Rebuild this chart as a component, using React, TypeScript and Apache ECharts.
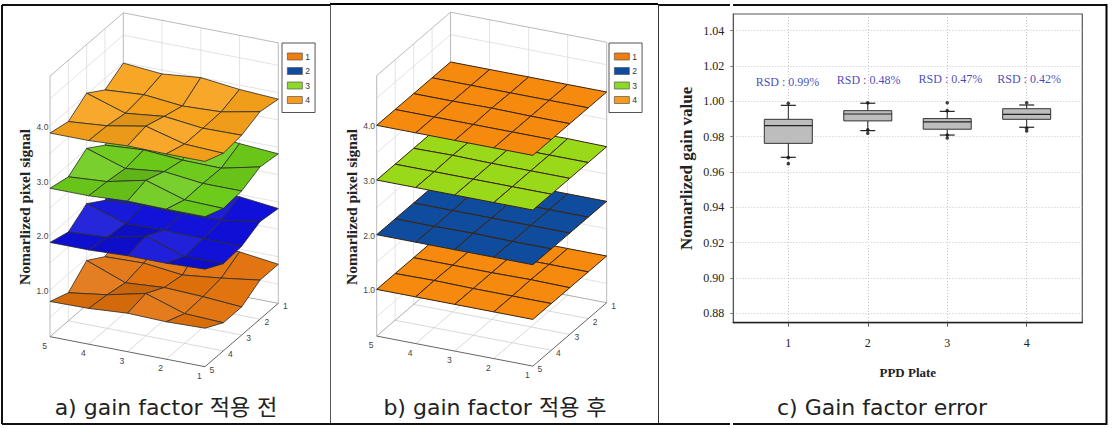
import React, { useEffect, useRef } from "react";
import * as echarts from "echarts";

// ---------- data ----------
const surfaceNames = ["1", "2", "3", "4"];
const zTicks = [1, 2, 3, 4];
const zGrid = [0.5, 1, 1.5, 2, 2.5, 3, 3.5, 4, 4.5];
const plateTicks = [5, 4, 3, 2, 1];
const rowTicks = [5, 4, 3, 2, 1];

// rows: y = 5 (front) ... y = 1 (back); columns: x = 5 ... x = 1
const before1 = [
  [0.79, 0.8, 0.85, 0.83, 0.85],
  [0.66, 0.76, 0.92, 0.69, 0.66],
  [0.96, 0.69, 0.74, 0.71, 0.66],
  [0.74, 0.76, 0.68, 0.76, 0.86],
  [0.93, 0.9, 0.95, 0.95, 0.86],
];
const before2 = [
  [1.87, 1.87, 1.9, 1.9, 1.93],
  [1.77, 1.81, 1.97, 1.73, 1.74],
  [2.0, 1.77, 1.79, 1.77, 1.77],
  [1.77, 1.82, 1.8, 1.82, 1.93],
  [2.0, 1.93, 2.0, 1.96, 1.88],
];
const before3 = [
  [2.86, 2.86, 2.9, 2.89, 2.89],
  [2.78, 2.83, 2.99, 2.77, 2.75],
  [3.01, 2.78, 2.86, 2.78, 2.78],
  [2.78, 2.83, 2.78, 2.77, 2.93],
  [2.98, 2.92, 3.0, 2.93, 2.88],
];
const before4 = [
  [3.87, 3.87, 3.91, 3.9, 3.9],
  [3.79, 3.85, 3.98, 3.79, 3.76],
  [4.02, 3.79, 3.87, 3.79, 3.8],
  [3.79, 3.84, 3.77, 3.8, 3.94],
  [3.99, 3.93, 4.0, 3.92, 3.88],
];
const after1 = [
  [1.0, 1.0, 1.0, 1.0, 1.0],
  [1.0, 1.01, 1.0, 1.0, 1.0],
  [1.0, 1.0, 1.0, 1.01, 1.0],
  [1.0, 1.0, 1.0, 1.0, 1.0],
  [1.0, 1.0, 1.0, 1.0, 1.0],
];
const after2 = [
  [2.0, 2.0, 2.0, 2.0, 2.0],
  [2.0, 2.0, 2.01, 2.0, 2.0],
  [2.0, 2.0, 2.0, 2.0, 2.0],
  [2.0, 2.01, 2.0, 2.0, 2.0],
  [2.0, 2.0, 2.0, 2.0, 2.0],
];
const after3 = [
  [3.0, 3.0, 3.0, 3.0, 3.0],
  [3.0, 3.0, 3.0, 3.0, 3.0],
  [3.0, 3.01, 3.0, 3.0, 3.0],
  [3.0, 3.0, 3.0, 3.0, 3.0],
  [3.0, 3.0, 3.0, 3.01, 3.0],
];
const after4 = [
  [4.0, 4.0, 4.0, 4.0, 4.0],
  [4.0, 4.0, 4.0, 4.0, 4.0],
  [4.0, 4.0, 4.01, 4.0, 4.0],
  [4.0, 4.0, 4.0, 4.0, 4.0],
  [4.0, 4.0, 4.0, 4.0, 4.0],
];

const plates = [1, 2, 3, 4];
const boxLow = [0.9683, 0.9834, 0.9809, 0.9853];
const boxQ1 = [0.9762, 0.9889, 0.9842, 0.9898];
const boxMedian = [0.9862, 0.9928, 0.9883, 0.9926];
const boxQ3 = [0.9898, 0.9947, 0.9902, 0.9958];
const boxHigh = [0.9977, 0.9989, 0.9943, 0.9979];
const outliers = [
  [1, 0.9989], [1, 0.9681], [1, 0.9647],
  [2, 0.9992], [2, 0.9838], [2, 0.9819],
  [3, 0.9992], [3, 0.9947], [3, 0.9809], [3, 0.9792],
  [4, 0.9992], [4, 0.9847], [4, 0.9832],
];
const rsdLabels = ["RSD : 0.99%", "RSD : 0.48%", "RSD : 0.47%", "RSD : 0.42%"];
const rsdX = [0.99, 2.01, 3.04, 4.03];
const rsdY = [1.0109, 1.0121, 1.0126, 1.0124];
const gainTicks = [0.88, 0.9, 0.92, 0.94, 0.96, 0.98, 1.0, 1.02, 1.04];

// ---------- 3D helper: oblique projection onto hidden axes ----------
const U_I = 116.25 / 685;
const U_J = 55 / 685;
const V_I = -22.5 / 164;
const V_J = 47.5 / 164;
const Z_MIN = 0.146;
const Z_MAX = 4.91;
const project = (i: number, j: number, z: number) => [
  i * U_I + j * U_J,
  z + i * V_I + j * V_J,
];

const mix = (hex: string, k: number) => {
  const c = echarts.color.parse(hex);
  const t = k > 0 ? 255 : 0;
  const a = Math.min(Math.abs(k), 0.6);
  return `rgb(${c[0] + (t - c[0]) * a | 0},${c[1] + (t - c[1]) * a | 0},${c[2] + (t - c[2]) * a | 0})`;
};

const cellsOf = (rows: number[][]) => {
  const out: number[][] = [];
  for (let j = 3; j >= 0; j--) {
    for (let i = 0; i < 4; i++) {
      out.push([i, j, rows[j][i], rows[j][i + 1], rows[j + 1][i + 1], rows[j + 1][i]]);
    }
  }
  return out;
};

const surfaceSeries = (
  name: string,
  rows: number[][],
  color: string,
  axis: number,
  shade: number,
  lineWidth: number,
  stroke: string
) => ({
  type: "custom",
  name,
  silent: true,
  clip: false,
  xAxisIndex: axis,
  yAxisIndex: axis,
  itemStyle: { color },
  data: cellsOf(rows),
  renderItem: (_: any, api: any) => {
    const i = api.value(0);
    const j = api.value(1);
    const a = api.value(2);
    const b = api.value(3);
    const c = api.value(4);
    const d = api.value(5);
    const pts = [
      api.coord(project(i, j, a)),
      api.coord(project(i + 1, j, b)),
      api.coord(project(i + 1, j + 1, c)),
      api.coord(project(i, j + 1, d)),
    ];
    const slope = (a + d - b - c) * shade + (c + d - a - b) * shade * 0.4;
    return {
      type: "polygon",
      shape: { points: pts },
      style: { fill: mix(color, slope), stroke, lineWidth, lineJoin: "round" },
    };
  },
});

const wallSeries = (axis: number, nameX: number) => ({
  type: "custom",
  silent: true,
  clip: false,
  xAxisIndex: axis,
  yAxisIndex: axis,
  data: [[0]],
  renderItem: (_: any, api: any) => {
    const p = (i: number, j: number, z: number) => api.coord(project(i, j, z));
    const kids: any[] = [];
    const seg = (a: number[], b: number[], stroke: string, w = 0.8) =>
      kids.push({
        type: "line",
        shape: { x1: a[0], y1: a[1], x2: b[0], y2: b[1] },
        style: { stroke, lineWidth: w },
      });
    const grid = "#dcdcdc";
    for (const z of zGrid) {
      seg(p(0, 0, z), p(0, 4, z), grid);
      seg(p(0, 4, z), p(4, 4, z), grid);
    }
    for (let n = 1; n < 4; n++) {
      seg(p(n, 4, Z_MIN), p(n, 4, Z_MAX), grid);
      seg(p(0, n, Z_MIN), p(0, n, Z_MAX), grid);
      seg(p(n, 0, Z_MIN), p(n, 4, Z_MIN), "#cfcfcf");
      seg(p(0, n, Z_MIN), p(4, n, Z_MIN), "#cfcfcf");
    }
    const edge = "#a8a8a8";
    seg(p(0, 0, Z_MAX), p(0, 4, Z_MAX), edge);
    seg(p(0, 4, Z_MAX), p(4, 4, Z_MAX), edge);
    seg(p(0, 0, Z_MIN), p(0, 0, Z_MAX), edge);
    seg(p(0, 4, Z_MIN), p(0, 4, Z_MAX), edge);
    seg(p(4, 4, Z_MIN), p(4, 4, Z_MAX), edge);
    seg(p(0, 0, Z_MIN), p(0, 4, Z_MIN), "#999");
    seg(p(0, 4, Z_MIN), p(4, 4, Z_MIN), "#999");
    seg(p(0, 0, Z_MIN), p(4, 0, Z_MIN), "#666", 1);
    seg(p(4, 0, Z_MIN), p(4, 4, Z_MIN), "#666", 1);
    const label = (text: string, x: number, y: number) =>
      kids.push({
        type: "text",
        style: {
          text,
          x,
          y,
          fill: "#444",
          font: "8.5px 'Liberation Sans'",
          align: "center",
          verticalAlign: "middle",
        },
      });
    zTicks.forEach((z) => {
      const q = p(0, 0, z);
      label(z.toFixed(1), q[0] - 7.5, q[1] + 1);
    });
    plateTicks.forEach((t, n) => {
      const q = p(n, 0, Z_MIN);
      label(String(t), q[0] - 5.5, q[1] + 9);
    });
    rowTicks.forEach((t, n) => {
      const q = p(4, n, Z_MIN);
      label(String(t), q[0] + 7, q[1] + 3);
    });
    kids.push({
      type: "text",
      x: nameX,
      y: 207,
      rotation: Math.PI / 2,
      style: {
        text: "Nomarlized pixel signal",
        x: 0,
        y: 0,
        fill: "#222",
        font: "bold 15.5px 'Liberation Serif'",
        align: "center",
        verticalAlign: "middle",
      },
    });
    return { type: "group", children: kids };
  },
});

const legend3d = (left: number, colors: string[]) => ({
  orient: "vertical" as const,
  left,
  top: 43,
  padding: [9, 5, 8, 5],
  itemWidth: 15,
  itemHeight: 7,
  itemGap: 5.5,
  selectedMode: false,
  backgroundColor: "#fff",
  borderColor: "#555",
  borderWidth: 1,
  borderRadius: 0,
  textStyle: { fontSize: 8.5, color: "#333", fontFamily: "Liberation Sans", padding: [0, 0, 0, -2] },
  data: surfaceNames.map((name, n) => ({
    name,
    icon: "rect",
    itemStyle: { color: colors[n], borderColor: "#555", borderWidth: 0.7 },
  })),
});

const hiddenAxis = (gridIndex: number, min: number, max: number) => ({
  type: "value" as const,
  gridIndex,
  min,
  max,
  show: false,
});

const caption = (text: string, cx: number) => ({
  text,
  left: cx,
  top: 394,
  textAlign: "center" as const,
  padding: 0,
  textStyle: {
    fontFamily: "'DejaVu Sans', 'Noto Sans CJK KR'",
    fontWeight: "normal" as const,
    fontSize: 22,
    color: "#222",
    lineHeight: 26,
  },
});

const frame = (x1: number, y1: number, x2: number, y2: number, stroke: string, w: number) => ({
  type: "line",
  silent: true,
  shape: { x1, y1, x2, y2 },
  style: { stroke, lineWidth: w },
});

export default function App() {
  const ref = useRef<HTMLDivElement>(null);
  useEffect(() => {
    const chart = echarts.init(ref.current!, undefined, { renderer: "svg" });
    const colorsA = ["#E2720C", "#1010D8", "#6CCB1A", "#F7A21B"];
    const colorsB = ["#F58A0E", "#0F4C9E", "#9AD81A", "#F58A0E"];
    const legendColors = ["#F07D12", "#0F4CA0", "#8CD92A", "#F59B1E"];
    const beforeRows = [before1, before2, before3, before4];
    const afterRows = [after1, after2, after3, after4];
    chart.setOption({
      animation: false,
      backgroundColor: "#fff",
      title: [
        caption("a) gain factor 적용 전", 166),
        caption("b) gain factor 적용 후", 495),
        caption("c) Gain factor error", 882),
      ],
      legend: [legend3d(282, legendColors), legend3d(609, legendColors)],
      grid: [
        { left: 50, top: 13.3, width: 228.3, height: 353.4 },
        { left: 376.7, top: 12.7, width: 230, height: 353.4 },
        {
          left: 733.3,
          top: 14,
          width: 349,
          height: 308.7,
          show: true,
          borderColor: "#555",
          borderWidth: 1.2,
        },
      ],
      xAxis: [
        hiddenAxis(0, 0, 1),
        hiddenAxis(1, 0, 1),
        {
          type: "value",
          gridIndex: 2,
          min: 0.3076,
          max: 4.7,
          name: "PPD Plate",
          nameLocation: "middle",
          nameGap: 43,
          nameTextStyle: { fontFamily: "Liberation Serif", fontWeight: "bold", fontSize: 13, color: "#222" },
          axisLine: { show: true, onZero: false, lineStyle: { color: "#222", width: 1.4 } },
          axisTick: { customValues: plates, length: 4, lineStyle: { color: "#555" } },
          axisLabel: {
            customValues: plates,
            margin: 14,
            fontFamily: "Liberation Serif",
            fontSize: 12,
            color: "#222",
            formatter: (v: number) => String(v),
          },
          splitLine: {
            show: true,
            customValues: plates,
            lineStyle: { type: [1, 2], color: "#c8c8c8", width: 1 },
          },
        },
      ],
      yAxis: [
        hiddenAxis(0, -0.403, 6.06),
        hiddenAxis(1, -0.403, 6.06),
        {
          type: "value",
          gridIndex: 2,
          min: 0.8747,
          max: 1.0494,
          name: "Nomarlized gain value",
          nameLocation: "middle",
          nameGap: 38,
          nameRotate: 90,
          nameTextStyle: { fontFamily: "Liberation Serif", fontWeight: "bold", fontSize: 17, color: "#222" },
          axisLine: { show: true, onZero: false, lineStyle: { color: "#555", width: 1 } },
          axisTick: { customValues: gainTicks, length: 3, lineStyle: { color: "#777" } },
          axisLabel: {
            customValues: gainTicks,
            margin: 9,
            fontFamily: "Liberation Serif",
            fontSize: 12,
            color: "#222",
            formatter: (v: number) => v.toFixed(2),
          },
          splitLine: {
            show: true,
            customValues: gainTicks,
            lineStyle: { type: [1, 2], color: "#c8c8c8", width: 1 },
          },
        },
      ],
      series: [
        wallSeries(0, 24),
        ...surfaceNames.map((n, k) => surfaceSeries(n, beforeRows[k], colorsA[k], 0, 0.35, 0.8, "#2a2a2a")),
        wallSeries(1, 351),
        ...surfaceNames.map((n, k) => surfaceSeries(n, afterRows[k], colorsB[k], 1, 0, 1, "#3a2410")),
        {
          type: "custom",
          name: "Gain",
          silent: true,
          xAxisIndex: 2,
          yAxisIndex: 2,
          data: plates.map((p, n) => [p, boxLow[n], boxQ1[n], boxMedian[n], boxQ3[n], boxHigh[n]]),
          renderItem: (_: any, api: any) => {
            const x = api.value(0);
            const c = (yv: number) => api.coord([x, yv]);
            const low = c(api.value(1));
            const q1 = c(api.value(2));
            const med = c(api.value(3));
            const q3 = c(api.value(4));
            const high = c(api.value(5));
            const halfBox = 24;
            const halfCap = 7.5;
            const line = (x1: number, y1: number, x2: number, y2: number, w = 1) => ({
              type: "line",
              shape: { x1, y1, x2, y2 },
              style: { stroke: "#222", lineWidth: w },
            });
            return {
              type: "group",
              children: [
                line(low[0], low[1], low[0], q1[1]),
                line(high[0], high[1], high[0], q3[1]),
                line(low[0] - halfCap, low[1], low[0] + halfCap, low[1], 1.2),
                line(high[0] - halfCap, high[1], high[0] + halfCap, high[1], 1.2),
                {
                  type: "rect",
                  shape: { x: q3[0] - halfBox, y: q3[1], width: halfBox * 2, height: q1[1] - q3[1] },
                  style: { fill: "#bdbdbd", stroke: "#333", lineWidth: 1 },
                },
                line(med[0] - halfBox, med[1], med[0] + halfBox, med[1], 1.2),
              ],
            };
          },
        },
        {
          type: "scatter",
          name: "Outliers",
          silent: true,
          xAxisIndex: 2,
          yAxisIndex: 2,
          symbol: "circle",
          symbolSize: 3.6,
          itemStyle: { color: "#111" },
          data: outliers,
        },
        {
          type: "scatter",
          name: "RSD",
          silent: true,
          xAxisIndex: 2,
          yAxisIndex: 2,
          symbolSize: 1,
          itemStyle: { color: "transparent" },
          label: {
            show: true,
            position: "inside",
            color: "#1515AA",
            fontFamily: "Liberation Serif",
            fontSize: 12,
            formatter: (p: any) => rsdLabels[p.dataIndex],
          },
          data: rsdX.map((x, n) => [x, rsdY[n]]),
        },
      ],
      graphic: [
        frame(2, 5, 330, 5, "#111", 2),
        frame(330, 4, 658, 4, "#000", 2),
        frame(658, 5, 730, 5, "#111", 2),
        frame(733, 5, 1107, 5, "#111", 2),
        frame(2, 5, 2, 424, "#111", 2),
        frame(330.5, 5, 330.5, 424, "#555", 1),
        frame(658.5, 5, 658.5, 424, "#333", 1),
        frame(1106.5, 4, 1106.5, 425, "#000", 2),
        frame(2, 424, 330, 424, "#111", 2),
        frame(330, 424, 730, 424, "#111", 2),
        frame(733, 424, 1107, 424, "#111", 2),
      ],
    });
    return () => chart.dispose();
  }, []);
  return (
    <div
      ref={ref}
      style={{ position: "fixed", left: 0, top: 0, width: 1117, height: 428, background: "#fff" }}
    />
  );
}
